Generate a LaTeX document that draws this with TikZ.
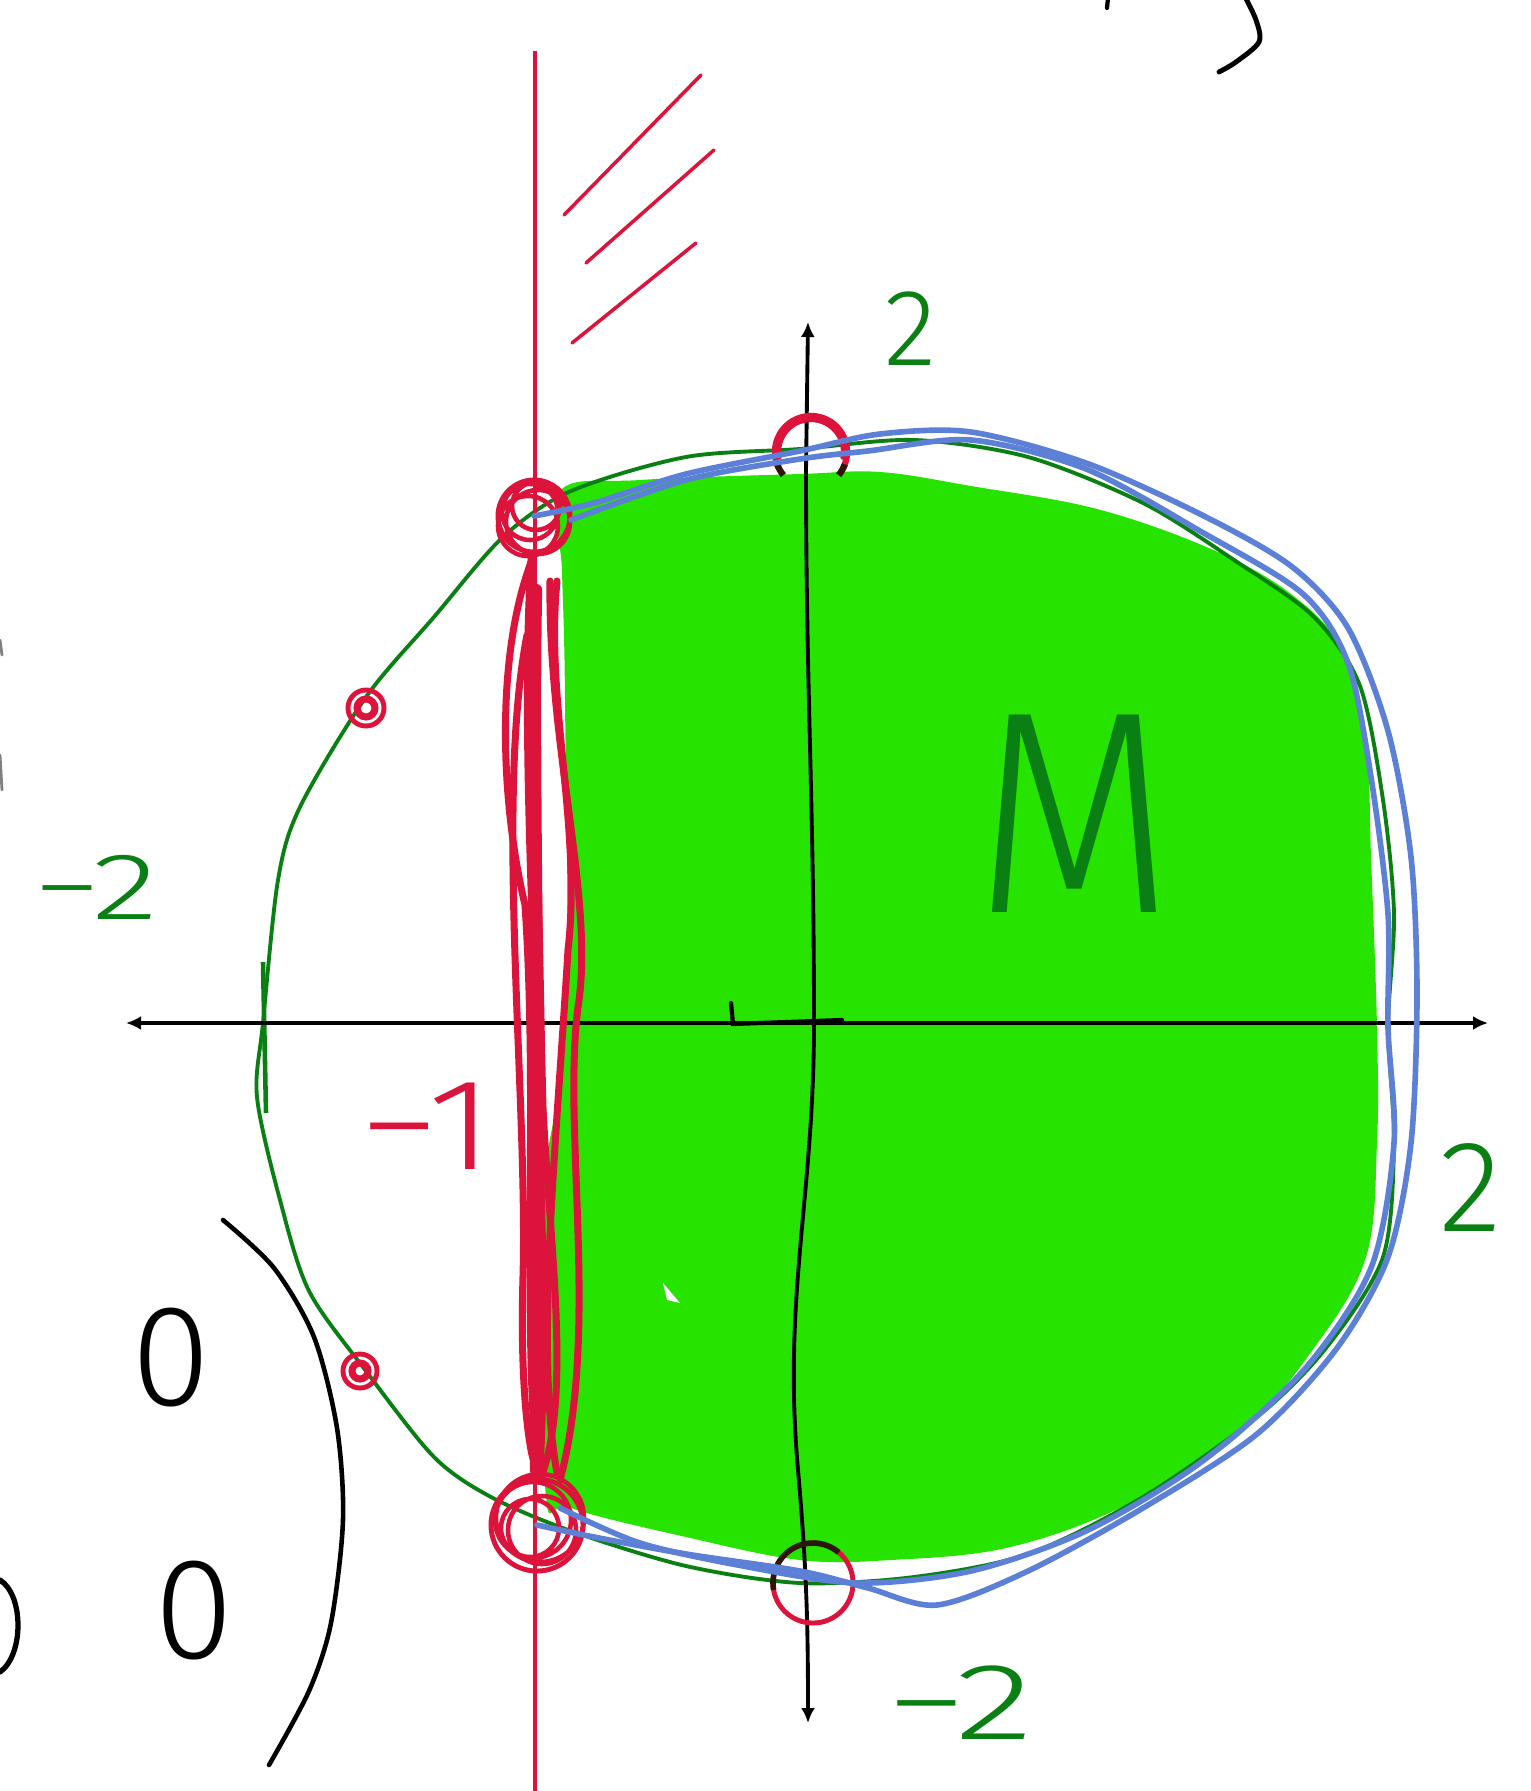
\documentclass[tikz,border=0pt]{standalone}
\usepackage{fontspec}
\setmainfont{Fira Sans Light}
\usetikzlibrary{arrows.meta,positioning,calc}
\definecolor{MGreen}{RGB}{38,228,0}
\definecolor{RimGreen}{RGB}{10,128,20}
\definecolor{CrimsonRed}{RGB}{220,20,60}
\definecolor{EdgeBlue}{RGB}{92,128,214}
\definecolor{DarkInk}{RGB}{45,22,8}

\begin{document}
\begin{tikzpicture}[x=0.01cm,y=-0.01cm,
  lbl/.style={inner sep=0pt,text=RimGreen,font=\fontsize{31}{31}\selectfont},
  zero/.style={inner sep=0pt,font=\fontsize{41}{41}\selectfont},
  axis/.style={line width=1.1pt,draw=black,{Latex[length=1.5mm,width=1.4mm]}-{Latex[length=1.5mm,width=1.4mm]}},
  rim/.style={line width=1.1pt,draw=RimGreen},
  edge/.style={line width=1.6pt,draw=EdgeBlue,line cap=round},
  scrib/.style={line width=1.3pt,draw=CrimsonRed,line cap=round},
  band/.style={line width=2pt,draw=CrimsonRed,line cap=round},
  ring/.style={circle,draw=CrimsonRed,line width=1.4pt,inner sep=0pt},
  ink/.style={line width=1.2pt,draw=black,line cap=round}
]
  \useasboundingbox (0,0) rectangle (1530,1791);

  \fill[MGreen] plot[smooth cycle,tension=0.6] coordinates {(560,491) (640,480) (800,474) (880,472) (971,486) (1097,509) (1211,549) (1291,594) (1343,651) (1366,743) (1371,857) (1377,1028) (1377,1143) (1366,1257) (1314,1348) (1234,1440) (1120,1508) (1006,1548) (891,1560) (800,1560) (686,1537) (571,1508) (545,1486) (543,1200) (566,1028) (565,700) (562,571)};
  \fill[white] (663,1283) -- (680,1303) -- (667,1300) -- cycle;

  \draw[rim] plot[smooth cycle] coordinates {(263,1023) (278,880) (300,807) (366,697) (434,617) (503,537) (571,491) (686,457) (800,449) (914,440) (1028,457) (1143,503) (1234,560) (1314,617) (1360,686) (1383,800) (1394,914) (1388,1028) (1394,1143) (1383,1257) (1326,1348) (1257,1417) (1143,1497) (1028,1554) (914,1577) (800,1583) (686,1566) (571,1531) (491,1497) (434,1457) (366,1371) (309,1291) (280,1200) (257,1097)};
  \draw[rim,line width=1.3pt] (263,962) -- (266,1113);

  \coordinate (xl) at (126,1023);
  \coordinate (xr) at (1488,1023);
  \coordinate (yt) at (808,322);
  \coordinate (yb) at (808,1723);
  \draw[axis] (xl) -- (xr);
  \draw[axis] (yt) -- (806,470) to[out=-90,in=90] (814,1023) to[out=-90,in=95] (798,1470) to[out=-85,in=90] (yb);
  \draw[ink] (731,1003) -- (733,1024) -- (842,1020);

  \coordinate (rt) at (535,51);
  \coordinate (rb) at (535,1800);
  \draw[CrimsonRed,line width=1.1pt] (rt) -- (rb);
  \draw[scrib,line width=1pt] (564,215) -- (701,75);
  \draw[scrib,line width=1pt] (586,263) -- (714,150);
  \draw[scrib,line width=1pt] (572,343) -- (696,243);

  \node[ring,minimum size=0.72cm] (ptl) at (534,516) {};
  \node[ring,minimum size=0.92cm] (pbl) at (537,1525) {};
  \node[ring,minimum size=0.36cm] (pul) at (366,708) {};
  \node[ring,minimum size=0.34cm] (pll) at (360,1371) {};
  \node[ring,minimum size=0.8cm] (pbot) at (813,1583) {};
  \coordinate (ptop) at (811,452);

  \draw[scrib] (530,512) circle[radius=28] (538,522) circle[radius=32] (536,506) circle[radius=24] (528,526) circle[radius=30];
  \draw[scrib] (533,1520) circle[radius=38] (542,1530) circle[radius=34] (530,1528) circle[radius=29] (540,1518) circle[radius=44];
  \draw[scrib,line width=2pt] (pul) circle[radius=9] (pll) circle[radius=8];
  \draw[scrib,line width=1.8pt] ($(ptop)+(155:36)$) arc[start angle=155,end angle=385,radius=36];
  \draw[scrib,line width=1.2pt] ($(ptop)+(170:32)$) arc[start angle=170,end angle=370,radius=32];
  \draw[DarkInk,line width=1.8pt] ($(ptop)+(140:36)$) arc[start angle=140,end angle=160,radius=36];
  \draw[DarkInk,line width=1.8pt] ($(ptop)+(20:36)$) arc[start angle=20,end angle=40,radius=36];
  \draw[DarkInk,line width=1.6pt] ($(pbot)+(170:40)$) arc[start angle=170,end angle=310,radius=40];

  \draw[band,line width=3.5pt] (536,590) .. controls (532,800) and (542,1100) .. (536,1470);
  \draw[band] (ptl.south) .. controls (495,650) and (500,800) .. (525,905) .. controls (538,1100) and (522,1300) .. (pbl.north);
  \draw[band] (550,581) .. controls (548,750) and (595,900) .. (578,1007) .. controls (562,1130) and (600,1330) .. (560,1480);
  \draw[band] (530,588) .. controls (538,800) and (540,1000) .. (543,1108) .. controls (550,1250) and (572,1400) .. (540,1480);
  \draw[band] (557,581) .. controls (545,700) and (582,830) .. (568,950) .. controls (556,1150) and (535,1350) .. (557,1473);
  \draw[band] (527,635) .. controls (495,800) and (528,1100) .. (523,1277) .. controls (520,1380) and (528,1440) .. (533,1459);
  \draw[band] (ptl) .. controls (515,800) and (555,1200) .. (pbl);

  \draw[edge] plot[smooth] coordinates {(ptl.center) (594,503) (686,474) (800,451) (880,434) (971,432) (1086,463) (1200,514) (1291,566) (1348,628) (1388,731) (1411,857) (1417,994) (1411,1143) (1388,1257) (1337,1348) (1257,1434) (1143,1508) (1028,1571) (937,1605) (868,1588) (800,1571) (686,1554) (594,1537) (pbl.center)};
  \draw[edge] plot[smooth] coordinates {(571,520) (686,480) (800,459) (868,451) (971,440) (1086,469) (1200,531) (1303,594) (1348,663) (1371,777) (1388,914) (1388,1028) (1394,1143) (1371,1268) (1303,1371) (1200,1463) (1086,1531) (971,1571) (857,1583) (743,1566) (640,1543) (560,1508)};

  \node[lbl] (ytwo) at (911,329) {2};
  \node[lbl,font=\fontsize{27}{27}\selectfont,xscale=1.45] (xmtwo) at (96,887) {−2};
  \node[lbl,font=\fontsize{37}{37}\selectfont] (xtwo) at (1471,1188) {2};
  \node[lbl,xscale=1.5] (ymtwo) at (960,1703) {−2};
  \node[lbl,font=\fontsize{82}{82}\selectfont,xscale=0.9] (setM) at (1074,814) {M};
  \node[lbl,text=CrimsonRed,font=\fontsize{37}{37}\selectfont,xscale=1.25] (mone) at (427,1126) {−1};

  \node[zero] (zA) at (171,1358) {0};
  \node[zero] (zB) at (194,1611) {0};
  \draw[ink,line width=1.5pt] (0,1580) .. controls (24,1595) and (24,1655) .. (0,1672);
  \draw[ink,line width=1.3pt] plot[smooth] coordinates {(223,1220) (274,1268) (314,1337) (337,1428) (343,1520) (331,1623) (309,1691) (269,1765)};
  \draw[ink,line width=1.4pt] plot[smooth] coordinates {(1244,-5) (1256,20) (1259,42) (1236,62) (1219,72)};
  \draw[ink] (1108,-2) -- (1107,8);
  \draw[ink,gray,line width=0.8pt] (0,640) -- (2,655) (0,755) -- (2,790);
\end{tikzpicture}
\end{document}
